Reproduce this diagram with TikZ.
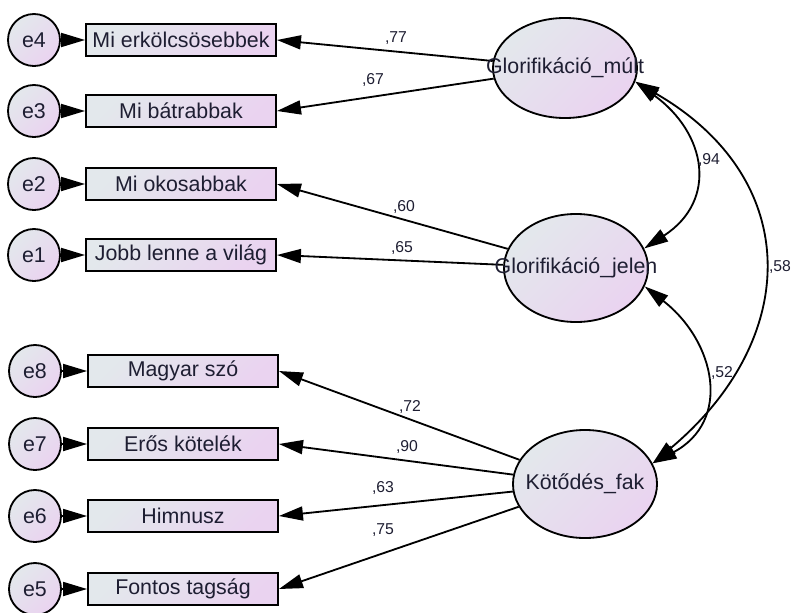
\documentclass[tikz,border=0pt]{standalone}
\usepackage{fontspec}
\setmainfont{Liberation Sans}
\usetikzlibrary{arrows.meta,shapes.geometric}
\begin{document}
\begin{tikzpicture}[x=0.025cm,y=0.025cm]
% Define colors
\definecolor{colorfillA}{HTML}{E3E8EC}
\definecolor{colorfillB}{HTML}{EAD3F0}
\definecolor{colortext}{HTML}{1E1E32}
\tikzset{
  fillgrad/.style={top color=colorfillA, bottom color=colorfillB, shading angle=45},
  obs/.style={draw, rectangle, line width=1.3pt, fillgrad, minimum width=4.75cm, minimum height=0.8cm, inner sep=0pt, text=colortext, font=\fontsize{15.2}{18}\selectfont},
  err/.style={draw, circle, line width=1.3pt, fillgrad, minimum size=1.3cm, inner sep=0pt, text=colortext, font=\fontsize{15.2}{18}\selectfont},
  lat/.style={draw, ellipse, line width=1.3pt, fillgrad, minimum width=3.6cm, inner sep=0pt},
  lattext/.style={text=colortext, font=\fontsize{15.2}{18}\selectfont, inner sep=0pt},
  coef/.style={text=colortext, font=\fontsize{11.2}{13}\selectfont, inner sep=0pt},
  load/.style={line width=1.3pt, -{Triangle[length=0.6cm, width=0.35cm]}},
  cov/.style={line width=1.3pt, {Triangle[length=0.6cm, width=0.35cm]}-{Triangle[length=0.6cm, width=0.35cm]}}
}
\useasboundingbox (0,0) rectangle (793,-612);
  %%%%%%%%%%%%% Latent factors
  \node[lat, minimum height=2.5cm] (mult) at (565,-68) {};
  \node[lat, minimum height=2.7cm] (jelen) at (576,-268) {};
  \node[lat, minimum height=2.7cm] (kot) at (585,-484) {};
  %%%%%%%%%%%%% Indicators
  \node[obs] (v4) at (181,-40) {Mi erkölcsösebbek};
  \node[obs] (v3) at (181,-111) {Mi bátrabbak};
  \node[obs] (v2) at (181,-184) {Mi okosabbak};
  \node[obs] (v1) at (181,-255) {Jobb lenne a világ};
  \node[obs] (v8) at (183,-371) {Magyar szó};
  \node[obs] (v7) at (183,-444) {Erős kötelék};
  \node[obs] (v6) at (183,-516) {Himnusz};
  \node[obs] (v5) at (183,-589) {Fontos tagság};
  %%%%%%%%%%%%% Errors
  \node[err] (e4) at (34,-40) {e4};
  \node[err] (e3) at (34,-111) {e3};
  \node[err] (e2) at (34,-184) {e2};
  \node[err] (e1) at (34,-255) {e1};
  \node[err] (e8) at (35,-371) {e8};
  \node[err] (e7) at (35,-444) {e7};
  \node[err] (e6) at (35,-516) {e6};
  \node[err] (e5) at (35,-589) {e5};
  % Error arrows
  \draw[load] (e4) -- (v4);
  \draw[load] (e3) -- (v3);
  \draw[load] (e2) -- (v2);
  \draw[load] (e1) -- (v1);
  \draw[load] (e8) -- (v8);
  \draw[load] (e7) -- (v7);
  \draw[load] (e6) -- (v6);
  \draw[load] (e5) -- (v5);
  % Loadings
  \draw[load] (mult) -- (v4.east);
  \draw[load] (mult) -- (v3.east);
  \draw[load] (jelen) -- (v2.east);
  \draw[load] (jelen) -- (v1.east);
  \draw[load] (kot) -- (v8.east);
  \draw[load] (kot) -- (v7.east);
  \draw[load] (kot) -- (v6.east);
  \draw[load] (kot) -- (v5.east);
  \node[coef] (c77) at (396,-38) {,77};
  \node[coef] (c67) at (373,-80) {,67};
  \node[coef] (c60) at (404,-207) {,60};
  \node[coef] (c65) at (402,-248) {,65};
  \node[coef] (c72) at (410,-407) {,72};
  \node[coef] (c90) at (407,-447) {,90};
  \node[coef] (c63) at (383,-488) {,63};
  \node[coef] (c75) at (383,-530) {,75};
  % Covariances
  \draw[cov] (mult.-11) to[out=-36, in=33, looseness=1.35] (jelen.16);
  \draw[cov] (jelen.-15) to[out=-38, in=28, looseness=1.3] (kot.17);
  \draw[cov] (mult.-11) to[out=-30, in=40, looseness=1.3] (kot.17);
  \node[coef] (c94) at (709,-160) {,94};
  \node[coef] (c52) at (722,-373) {,52};
  \node[coef] (c58) at (780,-267) {,58};
  % Factor names
  \node[lattext] (tmult) at (mult) {Glorifikáció\_múlt};
  \node[lattext] (tjelen) at (jelen) {Glorifikáció\_jelen};
  \node[lattext] (tkot) at (kot) {Kötődés\_fak};
\end{tikzpicture}
\end{document}
